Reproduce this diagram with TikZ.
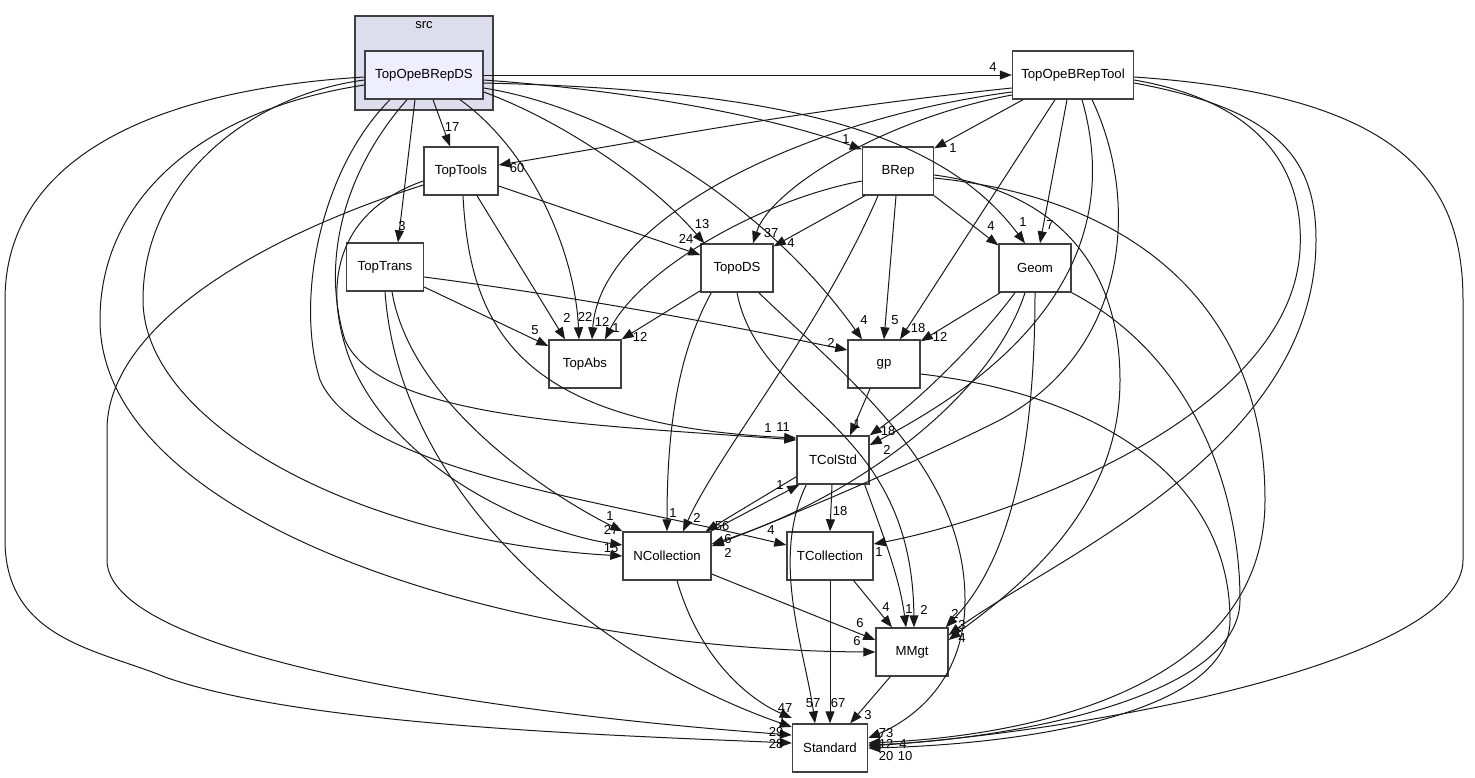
\documentclass[tikz,border=0pt]{standalone}
\usepackage{fontspec}
\setmainfont{Liberation Sans}
\usetikzlibrary{positioning,arrows.meta}
\definecolor{dirframe}{HTML}{404040}
\definecolor{clusterbg}{HTML}{DDDDEE}
\definecolor{dirbg}{HTML}{EEEEFF}
\tikzset{
  dir/.style={draw=dirframe, line width=1.4pt, fill=white, minimum height=48pt, inner sep=0pt, font=\fontsize{13.2}{15}\selectfont},
  cluster/.style={draw=dirframe, fill=clusterbg, line width=1.4pt, minimum width=138pt, minimum height=94pt, inner sep=0pt},
  dep/.style={line width=1pt, draw=black!90, -{Triangle[length=12pt,width=9pt]}},
  lbl/.style={inner sep=0pt, font=\fontsize{13}{15}\selectfont},
}

\begin{document}
\begin{tikzpicture}[x=1pt,y=-1pt]
  \useasboundingbox (0,0) rectangle (1475,777);
  \node[cluster] (src) at (424,63) {};
  \node[lbl, below=6pt of src.north] (srclbl) {src};
  \node[dir, fill=dirbg, minimum width=118pt] (ds) at (424,75) {TopOpeBRepDS};
  \node[dir, minimum width=121pt] (tool) at (1073,75) {TopOpeBRepTool};
  \node[dir, minimum width=74pt] (tools) at (461,171) {TopTools};
  \node[dir, minimum width=71pt] (brep) at (898,171) {BRep};
  \node[dir, minimum width=77pt] (trans) at (385,267) {TopTrans};
  \node[dir, minimum width=72pt] (topods) at (737,268) {TopoDS};
  \node[dir, minimum width=72pt] (geom) at (1035,268) {Geom};
  \node[dir, minimum width=72pt] (topabs) at (585,364) {TopAbs};
  \node[dir, minimum width=72pt] (gp) at (884,364) {gp};
  \node[dir, minimum width=72pt] (tcolstd) at (833,460) {TColStd};
  \node[dir, minimum width=88pt] (ncoll) at (667,556) {NCollection};
  \node[dir, minimum width=86pt] (tcoll) at (830,556) {TCollection};
  \node[dir, minimum width=72pt] (mmgt) at (912,652) {MMgt};
  \node[dir, minimum width=75pt] (std) at (830,748) {Standard};

  \draw[dep] (ds.east) -- (tool.west) node[lbl] at (993,67) {4};
  \draw[dep] ([xshift=9pt]ds.south) -- ([xshift=-11pt]tools.north) node[lbl] at (452,127) {17};
  \draw[dep] ([xshift=-9pt]ds.south) -- ([xshift=13pt]trans.north) node[lbl] at (402,226) {3};
  \draw[dep] ([yshift=-5pt]ds.east) .. controls (650,92) and (780,120) .. ([yshift=-3pt]brep.north west) node[lbl] at (846,139) {1};
  \draw[dep] ([yshift=-8pt]ds.east) .. controls (780,90) and (940,130) .. ([xshift=-10pt]geom.north) node[lbl] at (1023,222) {1};
  \draw[dep] ([yshift=-17pt]ds.east) .. controls (560,120) and (650,180) .. ([xshift=4pt]topods.north west) node[lbl] at (702,224) {13};
  \draw[dep] ([yshift=-13pt]ds.east) .. controls (620,110) and (770,210) .. ([xshift=-22pt]gp.north) node[lbl] at (864,320) {4};
  \draw[dep] ([xshift=36pt]ds.south) .. controls (530,150) and (575,250) .. ([xshift=-6pt]topabs.north) node[lbl] at (585,317) {22};
  \draw[dep] ([xshift=-17pt]ds.south) .. controls (345,170) and (320,260) .. (345,340) .. controls (380,420) and (600,425) .. ([yshift=20pt]tcolstd.west) node[lbl] at (783,427) {11};
  \draw[dep] ([xshift=-34pt]ds.south) .. controls (320,170) and (295,300) .. (320,380) .. controls (360,470) and (600,500) .. ([yshift=11pt]tcoll.west) node[lbl] at (771,530) {4};
  \draw[dep] ([yshift=-5pt]ds.west) .. controls (250,95) and (143,180) .. (143,300) .. controls (143,420) and (350,540) .. (ncoll.west) node[lbl] at (611,548) {15};
  \draw[dep] ([yshift=-10pt]ds.west) .. controls (200,110) and (100,200) .. (100,320) .. controls (100,520) and (500,650) .. (mmgt.west) node[lbl] at (857,641) {6};
  \draw[dep] ([yshift=-2pt]ds.west) .. controls (150,90) and (5,160) .. (5,300) -- (5,540) .. controls (5,640) and (100,650) .. (165,677) .. controls (300,725) and (600,735) .. ([yshift=5pt]std.west) node[lbl] at (776,744) {28};

  \draw[dep] ([xshift=16pt]tools.south) -- ([xshift=-20pt]topabs.north) node[lbl] at (567,318) {2};
  \draw[dep] ([yshift=-15pt]tools.east) -- ([yshift=13pt]topods.west) node[lbl] at (686,239) {24};
  \draw[dep] ([xshift=2pt]tools.south) .. controls (470,330) and (520,425) .. ([yshift=22pt]tcolstd.west) node[lbl] at (768,428) {1};
  \draw[dep] ([yshift=-14pt]tools.west) .. controls (250,240) and (107,330) .. (107,430) -- (107,560) .. controls (107,650) and (450,710) .. ([yshift=13pt]std.west) node[lbl] at (776,732) {29};
  \draw[dep] ([yshift=-10pt]tools.west) .. controls (340,210) and (320,280) .. (350,360) .. controls (400,480) and (550,535) .. ([yshift=11pt]ncoll.west) node[lbl] at (611,530) {27};

  \draw[dep] ([yshift=-20pt]trans.east) -- ([yshift=18pt]topabs.west) node[lbl] at (535,330) {5};
  \draw[dep] ([yshift=-10pt]trans.east) .. controls (600,300) and (750,330) .. ([yshift=14pt]gp.west) node[lbl] at (831,343) {2};
  \draw[dep] ([xshift=7pt]trans.south) .. controls (410,400) and (540,490) .. (ncoll.north west) node[lbl] at (610,516) {1};
  \draw[dep] (trans.south) .. controls (400,500) and (600,660) .. ([yshift=21pt]std.west) node[lbl] at (782,720) {1};

  \draw[dep] ([yshift=-13pt]tool.west) .. controls (800,110) and (650,140) .. ([yshift=6pt]tools.east) node[lbl] at (517,168) {60};
  \draw[dep] ([yshift=-17pt]tool.west) .. controls (800,120) and (600,220) .. ([xshift=7pt]topabs.north) node[lbl] at (602,322) {12};
  \draw[dep] ([yshift=-20pt]tool.west) .. controls (880,120) and (770,190) .. ([xshift=16pt]topods.north) node[lbl] at (771,233) {37};
  \draw[dep] ([xshift=-50pt]tool.south) -- ([yshift=-2pt]brep.north east) node[lbl] at (953,148) {1};
  \draw[dep] ([xshift=-18pt]tool.south) -- ([xshift=16pt]gp.north) node[lbl] at (918,328) {18};
  \draw[dep] ([xshift=-6pt]tool.south) -- ([xshift=5pt]geom.north) node[lbl] at (1050,225) {7};
  \draw[dep] ([xshift=9pt]tool.south) .. controls (1105,180) and (1110,320) .. ([yshift=15pt]tcolstd.east) node[lbl] at (887,450) {2};
  \draw[dep] ([xshift=19pt]tool.south) .. controls (1140,200) and (1130,350) .. (1000,420) .. controls (900,470) and (780,520) .. ([yshift=10pt]ncoll.east) node[lbl] at (728,553) {2};
  \draw[dep] ([yshift=-5pt]tool.east) .. controls (1250,100) and (1305,160) .. (1300,250) .. controls (1290,420) and (1000,520) .. ([yshift=12pt]tcoll.east) node[lbl] at (879,552) {1};
  \draw[dep] ([yshift=-8pt]tool.east) .. controls (1280,110) and (1316,160) .. (1316,240) .. controls (1316,450) and (1050,560) .. ([yshift=17pt]mmgt.east) node[lbl] at (962,625) {3};
  \draw[dep] ([yshift=-2pt]tool.east) .. controls (1400,95) and (1463,180) .. (1463,300) -- (1463,560) .. controls (1463,660) and (1100,730) .. ([yshift=2pt]std.east) node[lbl] at (903,744) {4};

  \draw[dep] ([xshift=3pt]brep.south west) -- ([yshift=-3pt]topods.north east) node[lbl] at (791,243) {4};
  \draw[dep] ([yshift=-10pt]brep.west) .. controls (760,200) and (640,270) .. ([xshift=20pt]topabs.north) node[lbl] at (616,328) {1};
  \draw[dep] ([xshift=-2pt]brep.south) -- (gp.north) node[lbl] at (895,320) {5};
  \draw[dep] (brep.south east) -- ([yshift=-2pt]geom.north west) node[lbl] at (991,226) {4};
  \draw[dep] ([xshift=-20pt]brep.south) .. controls (820,330) and (720,450) .. ([xshift=16pt]ncoll.north) node[lbl] at (697,518) {2};
  \draw[dep] ([yshift=-4pt]brep.east) .. controls (1050,190) and (1120,260) .. (1120,380) .. controls (1120,520) and (1000,600) .. ([yshift=12pt]mmgt.east) node[lbl] at (962,638) {4};
  \draw[dep] ([yshift=-7pt]brep.east) .. controls (1150,200) and (1265,320) .. (1265,500) .. controls (1265,680) and (1050,735) .. ([yshift=5pt]std.east) node[lbl] at (886,744) {12};

  \draw[dep] ([xshift=2pt]geom.south west) -- ([yshift=-2pt]gp.north east) node[lbl] at (940,337) {12};
  \draw[dep] ([xshift=-20pt]geom.south) .. controls (980,340) and (920,400) .. (tcolstd.north east) node[lbl] at (888,431) {18};
  \draw[dep] ([xshift=-10pt]geom.south) .. controls (990,400) and (850,500) .. ([yshift=12pt]ncoll.east) node[lbl] at (728,539) {6};
  \draw[dep] (geom.south) .. controls (1035,450) and (1010,560) .. ([xshift=-3pt]mmgt.north east) node[lbl] at (955,614) {2};
  \draw[dep] (geom.south east) .. controls (1200,360) and (1240,500) .. (1240,600) .. controls (1240,700) and (1000,740) .. ([yshift=3pt]std.east) node[lbl] at (886,756) {20};

  \draw[dep] ([xshift=-14pt]gp.south) -- ([xshift=17pt]tcolstd.north) node[lbl] at (857,424) {1};
  \draw[dep] ([yshift=-10pt]gp.east) .. controls (1100,395) and (1230,480) .. (1230,620) .. controls (1230,720) and (1000,745) .. (std.east) node[lbl] at (905,756) {10};

  \draw[dep] ([yshift=2pt]topods.south west) -- (topabs.north east) node[lbl] at (640,337) {12};
  \draw[dep] ([xshift=11pt]topods.south west) .. controls (680,350) and (667,420) .. (ncoll.north) node[lbl] at (673,513) {1};
  \draw[dep] (topods.south) .. controls (760,410) and (912,420) .. ([xshift=2pt]mmgt.north) node[lbl] at (924,610) {2};
  \draw[dep] ([xshift=-15pt]topods.south east) .. controls (850,380) and (965,470) .. (965,600) .. controls (965,690) and (900,725) .. ([yshift=10pt]std.east) node[lbl] at (886,733) {73};

  \draw[dep] ([yshift=8pt]tcolstd.south west) -- ([xshift=-6pt]ncoll.north east) node[lbl] at (722,526) {56};
  \draw[dep] ([xshift=-1pt]ncoll.north east) -- ([xshift=3pt]tcolstd.south west) node[lbl] at (780,485) {1};
  \draw[dep] ([xshift=-1pt]tcolstd.south) -- (tcoll.north) node[lbl] at (840,511) {18};
  \draw[dep] ([xshift=-5pt]tcolstd.south east) .. controls (885,540) and (900,580) .. ([xshift=-6pt]mmgt.north) node[lbl] at (909,609) {1};
  \draw[dep] ([xshift=10pt]tcolstd.south west) .. controls (770,560) and (805,650) .. ([xshift=-15pt]std.north) node[lbl] at (813,703) {57};

  \draw[dep] ([yshift=-18pt]ncoll.east) -- ([yshift=12pt]mmgt.west) node[lbl] at (860,623) {6};
  \draw[dep] ([xshift=10pt]ncoll.south) .. controls (700,660) and (750,700) .. ([yshift=30pt]std.west) node[lbl] at (785,708) {47};
  \draw[dep] ([xshift=-20pt]tcoll.south east) -- ([xshift=-20pt]mmgt.north) node[lbl] at (886,607) {4};
  \draw[dep] (tcoll.south) -- (std.north) node[lbl] at (838,703) {67};
  \draw[dep] ([xshift=15pt]mmgt.south west) -- ([xshift=-18pt]std.north east) node[lbl] at (868,715) {3};
\end{tikzpicture}
\end{document}
